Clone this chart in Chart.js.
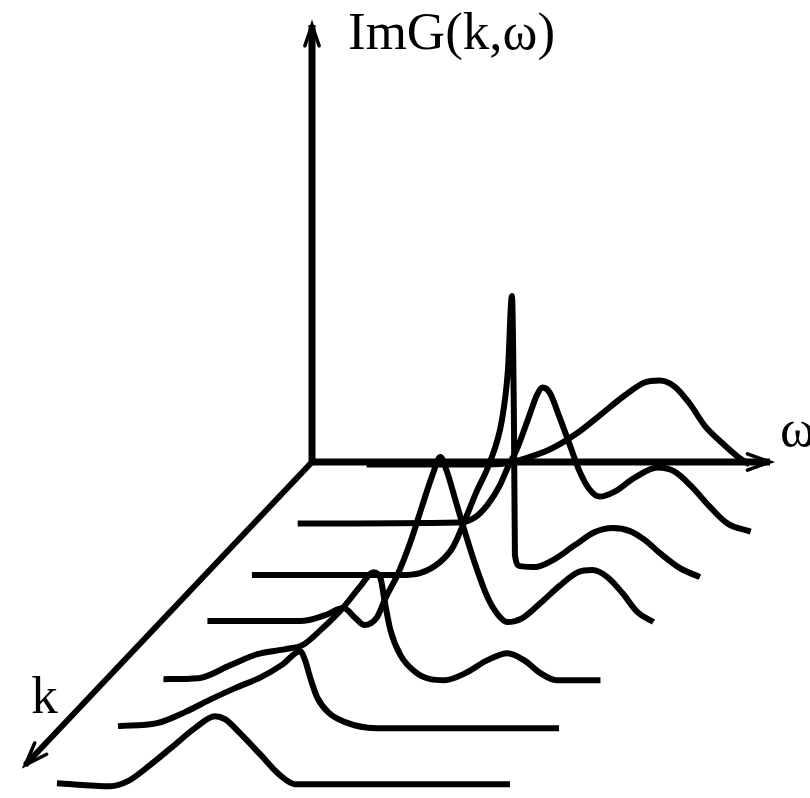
<!DOCTYPE html>
<html>
<head>
<meta charset="utf-8">
<script src="https://cdn.jsdelivr.net/npm/chart.js@4"></script>
<style>
  body { margin: 0; background: #fff; }
  #wrap { width: 810px; height: 798px; }
</style>
</head>
<body>
<div id="wrap"><canvas id="waterfall"></canvas></div>
<script>
// depth (k) of each spectrum, back to front
const kValues = [0.05, 1.22, 2.24, 3.15, 4.3, 5.25, 6.34];

// omega / ImG pairs
const omegaK0 = [57, 170, 195, 215, 240, 267, 290, 315, 335, 350, 365, 380, 395, 412, 428, 440];
const imgK0   = [0, 0, 1, 6, 15, 31, 49, 69, 82, 84, 78, 61, 39, 22, 8, 0];

const omegaK1 = [44, 206, 221, 234, 246, 254, 263, 276, 283, 289, 296, 306, 316, 326, 336, 346, 361, 381, 404, 421, 438, 456, 474, 497];
const imgK1   = [0, 1, 6, 19, 38, 56, 74, 109, 128, 136, 131, 106, 79, 52, 34, 27, 32, 46, 56, 52, 37, 17, 0, -8];

const omegaK2 = [47, 195, 215, 235, 248, 258, 271, 285, 297, 303, 307, 309, 310, 315, 330, 348, 370, 390, 408, 425, 440, 455, 475, 495];
const imgK2   = [0, 0, 2, 13, 28, 50, 82, 113, 155, 205, 279, 155, 20, 9, 8, 15, 30, 43, 47, 44, 35, 22, 7, -2];

const omegaK3 = [46, 139, 164, 182, 194, 203, 215, 225, 236, 249, 261, 271, 279, 285, 294, 302, 314, 326, 336, 346, 361, 379, 399, 417, 431, 446, 461, 476, 492];
const imgK3   = [0, 0, 6, 13, 3, -4, 3, 25, 46, 79, 116, 146, 164, 151, 121, 94, 56, 24, 7, -1, 3, 18, 36, 49, 51, 44, 28, 9, -1];

const omegaK4 = [57, 92, 124, 151, 179, 196, 214, 237, 254, 267, 274, 278, 284, 294, 309, 324, 338, 359, 381, 401, 419, 434, 450, 494];
const imgK4   = [0, 1, 14, 25, 30, 34, 49, 72, 93, 107, 101, 79, 49, 24, 7, 0, -1, 6, 19, 26, 18, 6, -1, -1];

const omegaK5 = [57, 96, 124, 148, 174, 200, 222, 239, 244, 249, 256, 267, 284, 315, 498];
const imgK5   = [1, 4, 15, 27, 39, 50, 63, 76, 67, 50, 30, 15, 5, -1, -1];

const omegaK6 = [48, 101, 119, 141, 163, 186, 206, 216, 231, 252, 271, 286, 501];
const imgK6   = [-1, -4, 1, 17, 35, 54, 66, 63, 49, 27, 7, -2, -2];

// axis extents
const omegaAxisEnd = 458;
const imgAxisEnd = 437;
const kAxisEnd = 6;

const omegaLists = [omegaK0, omegaK1, omegaK2, omegaK3, omegaK4, omegaK5, omegaK6];
const imgLists = [imgK0, imgK1, imgK2, imgK3, imgK4, imgK5, imgK6];

// oblique projection of the k direction onto the page
const K_STEP_X = -47.8;
const K_STEP_Y = -50.5;
function project(w, a, k) {
  return { x: w + K_STEP_X * k, y: a + K_STEP_Y * k };
}

const lineStyle = {
  showLine: true,
  borderColor: '#000',
  pointRadius: 0,
  borderJoinStyle: 'round',
  borderCapStyle: 'butt',
  fill: false
};

const datasets = omegaLists.map((ws, i) => ({
  ...lineStyle,
  label: 'k' + i,
  borderWidth: 6,
  cubicInterpolationMode: 'monotone',
  data: ws.map((w, j) => project(w, imgLists[i][j], kValues[i]))
}));

const origin = project(0, 0, 0);
const omegaTip = project(omegaAxisEnd, 0, 0);
const imgTip = project(0, imgAxisEnd, 0);
const kTip = project(0, 0, kAxisEnd);

datasets.push(
  { ...lineStyle, label: 'omega axis', borderWidth: 7, data: [origin, omegaTip] },
  { ...lineStyle, label: 'ImG axis', borderWidth: 7, data: [origin, imgTip] },
  { ...lineStyle, label: 'k axis', borderWidth: 6, data: [origin, kTip] }
);

const axisDecor = {
  id: 'axisDecor',
  afterDatasetsDraw(chart) {
    const { ctx, scales: { x, y } } = chart;
    const px = p => ({ x: x.getPixelForValue(p.x), y: y.getPixelForValue(p.y) });
    const o = px(origin);

    function arrow(tip, len, spread) {
      const t = px(tip);
      const ang = Math.atan2(t.y - o.y, t.x - o.x);
      ctx.save();
      ctx.strokeStyle = '#000';
      ctx.lineWidth = 3.5;
      ctx.lineCap = 'round';
      ctx.beginPath();
      ctx.moveTo(t.x - len * Math.cos(ang - spread), t.y - len * Math.sin(ang - spread));
      ctx.lineTo(t.x, t.y);
      ctx.lineTo(t.x - len * Math.cos(ang + spread), t.y - len * Math.sin(ang + spread));
      ctx.stroke();
      ctx.restore();
    }
    arrow(omegaTip, 24, 0.35);
    arrow(imgTip, 22, 0.33);
    arrow(kTip, 24, 0.35);

    ctx.save();
    ctx.fillStyle = '#000';
    ctx.font = '53px "Liberation Serif", "DejaVu Serif", serif';
    ctx.textBaseline = 'alphabetic';
    const it = px(imgTip), ot = px(omegaTip), kt = px(kTip);
    ctx.fillText('ImG(k,\u03c9)', it.x + 36, it.y + 24);
    ctx.fillText('\u03c9', ot.x + 10, ot.y - 16);
    ctx.fillText('k', kt.x + 6, kt.y - 52);
    ctx.restore();
  }
};

new Chart(document.getElementById('waterfall'), {
  type: 'scatter',
  data: { datasets },
  options: {
    responsive: true,
    maintainAspectRatio: false,
    animation: false,
    devicePixelRatio: 1,
    layout: { padding: 0 },
    plugins: { legend: { display: false }, tooltip: { enabled: false } },
    scales: {
      x: { type: 'linear', min: -312, max: 498, display: false },
      y: { type: 'linear', min: -336, max: 462, display: false }
    }
  },
  plugins: [axisDecor]
});
</script>
</body>
</html>
